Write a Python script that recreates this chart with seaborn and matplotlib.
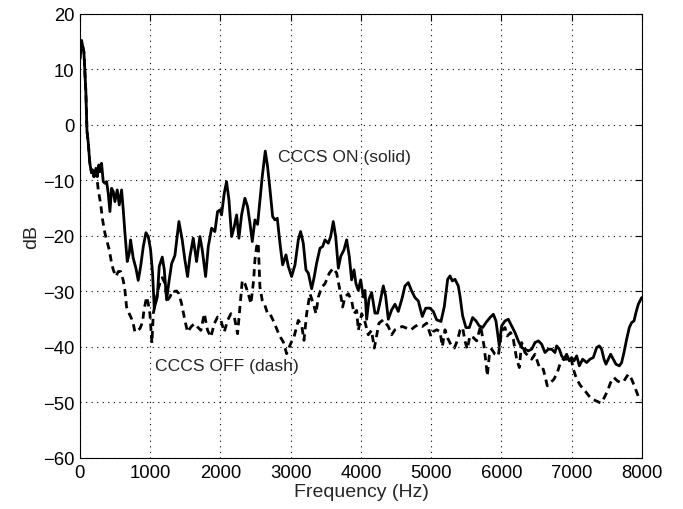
import numpy as np
import pandas as pd
import matplotlib
matplotlib.use("Agg")
import matplotlib.pyplot as plt
import seaborn as sns

# --- data ---
on_freq = [0, 24, 57, 85, 100, 118, 142, 166, 180, 199, 228, 247, 270, 285, 308, 332, 356, 380,
           403, 427, 451, 475, 498, 531, 560, 593, 617, 641, 674, 702, 721, 759, 797, 830, 864,
           902, 940, 973, 1006, 1034, 1058, 1101, 1129, 1172, 1200, 1234, 1270, 1305, 1352,
           1409, 1456, 1494, 1532, 1566, 1613, 1660, 1708, 1741, 1789, 1827, 1874, 1921, 1959,
           1993, 2016, 2054, 2087, 2121, 2159, 2197, 2230, 2263, 2301, 2348, 2386, 2420, 2453,
           2491, 2529, 2562, 2595, 2638, 2671, 2704,
           2743, 2776, 2809, 2847, 2885, 2933, 2966, 3013, 3061, 3108, 3141, 3179, 3217, 3251,
           3298, 3331, 3369, 3417, 3455, 3488, 3535, 3569, 3606, 3640, 3678, 3711, 3758, 3796,
           3834, 3867, 3901, 3929, 3962, 3996, 4033, 4057,
           4081, 4114, 4152, 4199, 4237, 4270, 4318, 4351, 4389, 4437, 4484, 4531, 4588, 4626,
           4674, 4721, 4769, 4816, 4873, 4921, 4982, 5030, 5077, 5139, 5186, 5234, 5267, 5300,
           5338, 5385, 5409,
           5447, 5494, 5542, 5589, 5637, 5684, 5732, 5779, 5836, 5884, 5921, 5969, 6002, 6050,
           6097, 6145, 6192, 6239, 6287, 6334, 6382, 6429, 6477, 6524, 6572, 6619, 6666, 6714,
           6761, 6785, 6823, 6856, 6889, 6927, 6965, 6998, 7032, 7070, 7108, 7155, 7212, 7259,
           7307, 7354, 7392, 7425, 7459, 7487, 7520, 7553, 7591, 7629, 7677, 7710, 7743, 7781,
           7819, 7852, 7886, 7914, 7947, 7995]
on_db = [11.9, 15.2, 13.1, 5.9, -1.0, -3.1, -7.0, -8.6, -8.1, -9.3, -7.8, -9.3, -7.2, -8.4, -6.9,
         -10.2, -10.5, -10.2, -12.3, -15.6, -11.4, -12.0, -13.8, -11.7, -14.4, -11.7, -15.3,
         -19.5, -24.6, -23.1, -20.7, -24.0, -25.8, -28.0, -25.5, -21.9, -19.4, -20.1, -22.5,
         -26.7, -33.0, -31.0, -25.5, -23.8, -26.0, -31.5, -28.0, -25.0, -23.5,
         -17.4, -20.7, -24.3, -27.3, -23.7, -20.4, -24.6, -20.1, -22.5, -27.3, -21.9, -18.6,
         -19.2, -15.6, -15.3, -16.2, -12.3, -10.2, -13.5, -20.1, -18.3, -16.2, -20.4, -16.2,
         -13.2, -14.7, -17.7, -21.0, -17.1, -17.9, -13.5, -9.3, -4.7, -7.5, -11.5,
         -16.5, -17.1, -16.8, -21.3, -25.2, -23.4, -25.5, -27.3, -25.2, -20.7, -19.2, -21.3,
         -26.1, -26.7, -29.5, -27.6, -24.9, -22.2, -21.9, -20.7, -21.3, -20.1, -17.4, -20.1,
         -25.8, -23.7, -22.5, -20.7, -23.7, -27.9, -26.1, -28.6, -29.8, -27.9, -31.0, -29.8,
         -35.0, -31.4, -30.2, -33.9, -33.9, -32.0, -29.0, -30.8, -35.0, -33.3, -32.3, -33.6,
         -31.1, -29.0, -28.4, -29.9, -31.1, -31.7, -34.5, -33.0, -33.0, -33.6, -35.1, -35.4,
         -32.7, -27.8, -27.2, -28.1, -27.8, -29.0, -30.8,
         -34.4, -36.5, -36.5, -34.7, -35.3, -36.2, -36.5, -35.6, -34.7, -34.1, -35.3, -39.8,
         -36.2, -35.3, -35.0, -36.2, -37.4, -38.9, -40.1, -40.4, -40.7, -40.4, -39.2, -38.9,
         -39.5, -41.0, -40.4, -40.4, -41.0, -39.8, -40.4, -41.6, -42.2, -41.3, -42.5, -41.9,
         -42.5, -41.6, -43.4, -42.2, -42.8, -42.2, -41.9, -40.1, -39.8, -40.4, -42.2, -43.1,
         -42.2, -41.3, -42.2, -43.1, -43.4, -42.8, -41.0, -38.6, -36.5, -35.6, -35.3, -33.8,
         -32.3, -31.1]

off_freq = [0, 24, 57, 85, 100, 118, 142, 166, 180, 199, 228, 261, 294, 323, 356, 380, 418, 451,
            475, 512, 546, 579, 617, 641, 664, 702, 735, 759, 783, 816, 854, 892, 911, 949, 973,
            996, 1025, 1044, 1068, 1091, 1115, 1139, 1172, 1210, 1243, 1281, 1319, 1345, 1376,
            1409, 1447, 1494, 1532, 1580, 1627, 1675, 1722, 1770, 1817, 1864, 1912, 1959, 2007,
            2054, 2102, 2149, 2197, 2244, 2277, 2311, 2349, 2396, 2434, 2472, 2491, 2515, 2538,
            2562, 2595, 2633, 2671, 2704, 2762, 2838, 2895, 2942, 2999, 3047, 3108, 3156, 3189,
            3227, 3274, 3322, 3360, 3393, 3441, 3488, 3549, 3606, 3654, 3701, 3739, 3772, 3820,
            3867, 3901, 3939, 3962, 4010, 4057, 4104, 4150, 4190, 4256, 4318, 4389, 4437, 4484,
            4531, 4588, 4650, 4712, 4769, 4816, 4873, 4935, 4996, 5030, 5077, 5125, 5158, 5196,
            5234, 5281, 5329, 5376, 5409, 5447, 5480, 5513, 5551, 5599, 5646, 5703, 5751, 5779,
            5798, 5826, 5860, 5907, 5955, 6002, 6050, 6083, 6130, 6168, 6216, 6254, 6287, 6334,
            6382, 6429, 6477, 6548, 6595, 6652, 6700, 6747, 6794, 6832, 6880, 6927, 6984, 7022,
            7070, 7127, 7188, 7250, 7307, 7364, 7411, 7459, 7506, 7553, 7601, 7648, 7696, 7743,
            7805, 7852, 7900, 7947, 7995]
off_db = [11.9, 15.2, 13.1, 5.9, -1.0, -3.1, -7.0, -8.6, -8.1, -9.3, -7.8, -11.7, -14.1, -17.1,
          -19.5, -20.7, -22.5, -24.9, -26.1, -27.3, -26.4, -26.4, -28.0, -29.8, -32.8, -34.0,
          -34.9, -35.8, -37.3, -37.0, -36.7, -35.5, -33.4, -31.0, -32.2, -34.0, -39.3, -34.0,
          -32.4, -31.0, -29.5, -28.5, -27.5, -28.5, -31.6, -31.0, -29.8, -30.0, -29.9, -30.4,
          -32.2, -35.2, -37.3, -36.4, -35.8, -36.4, -37.0, -34.0, -37.0, -38.2, -35.8, -34.6,
          -35.2, -37.3, -35.2, -34.0, -34.6, -37.6, -32.8, -28.0, -28.6, -30.4, -32.2, -28.0,
          -24.3, -21.9, -21.2, -29.2, -31.6, -32.5, -34.0, -34.0, -35.5, -37.9, -39.1, -41.2,
          -39.4, -38.2, -35.2, -36.1, -38.8, -34.0, -30.4, -32.2, -34.0, -31.0, -29.2, -28.6,
          -26.7, -25.8, -26.7, -29.8, -32.8, -31.0, -30.4, -31.6, -34.0, -33.4, -37.0, -34.0,
          -35.5, -37.8, -37.0, -40.2, -35.7, -35.1, -36.3, -37.8, -36.9, -36.6, -36.3, -36.6,
          -36.9, -36.3, -36.0, -36.3, -35.7, -38.1, -37.2, -36.9, -37.2, -39.9, -36.9, -38.4,
          -39.6, -40.2, -38.7, -37.0, -36.5, -38.9, -40.4, -38.0, -38.3, -38.9, -36.2, -39.8,
          -42.8, -45.2, -41.6, -40.4, -41.3, -41.6, -37.1, -36.5, -38.0, -37.4, -38.6, -42.2,
          -43.7, -39.2, -41.0, -41.6, -42.2, -41.3, -44.0, -44.0, -47.0, -46.4, -45.8, -44.6,
          -43.1, -42.2, -42.2, -41.6, -44.0, -45.8, -47.0, -47.9, -48.9, -49.5, -49.8, -50.1,
          -49.2, -48.0, -46.4, -45.5, -46.1, -46.4, -46.1, -44.9, -45.8, -47.3, -48.9, -49.5]

x_ticks = [0, 1000, 2000, 3000, 4000, 5000, 6000, 7000, 8000]
y_ticks = [-60, -50, -40, -30, -20, -10, 0, 10, 20]
label_on = "CCCS ON (solid)"
label_off = "CCCS OFF (dash)"

sns.set_style("white")
plt.rcParams['font.family'] = ['Liberation Sans', 'DejaVu Sans']

fig = plt.figure(figsize=(6.83, 5.10), dpi=100)
ax = fig.add_axes([0.117, 0.1, 0.823, 0.8706])

df_on = pd.DataFrame({"Frequency (Hz)": on_freq, "dB": on_db})
df_off = pd.DataFrame({"Frequency (Hz)": off_freq, "dB": off_db})

sns.lineplot(data=df_off, x="Frequency (Hz)", y="dB", ax=ax, color="black",
             linewidth=2.0, linestyle=(0, (2.6, 1.8)), sort=False)
sns.lineplot(data=df_on, x="Frequency (Hz)", y="dB", ax=ax, color="black",
             linewidth=2.0, sort=False)

ax.set_xlim(0, 8000)
ax.set_ylim(-60, 20)
ax.set_xticks(x_ticks)
ax.set_yticks(y_ticks)
ax.grid(True, color="black", linestyle=(0, (1, 4)), linewidth=0.8)
for s in ax.spines.values():
    s.set_color("black")
    s.set_linewidth(0.8)
ax.tick_params(direction="in", top=True, right=True, length=5, width=0.8,
               labelsize=13.3, colors="black", pad=4)
ax.set_xlabel("Frequency (Hz)", fontsize=14, labelpad=2)
ax.set_ylabel("dB", fontsize=14, labelpad=2)

ax.text(2818, -5.6, label_on, fontsize=12.6, va="center", ha="left")
ax.text(1068, -43.4, label_off, fontsize=12.6, va="center", ha="left")

fig.savefig("out.png", dpi=100, facecolor="white")
